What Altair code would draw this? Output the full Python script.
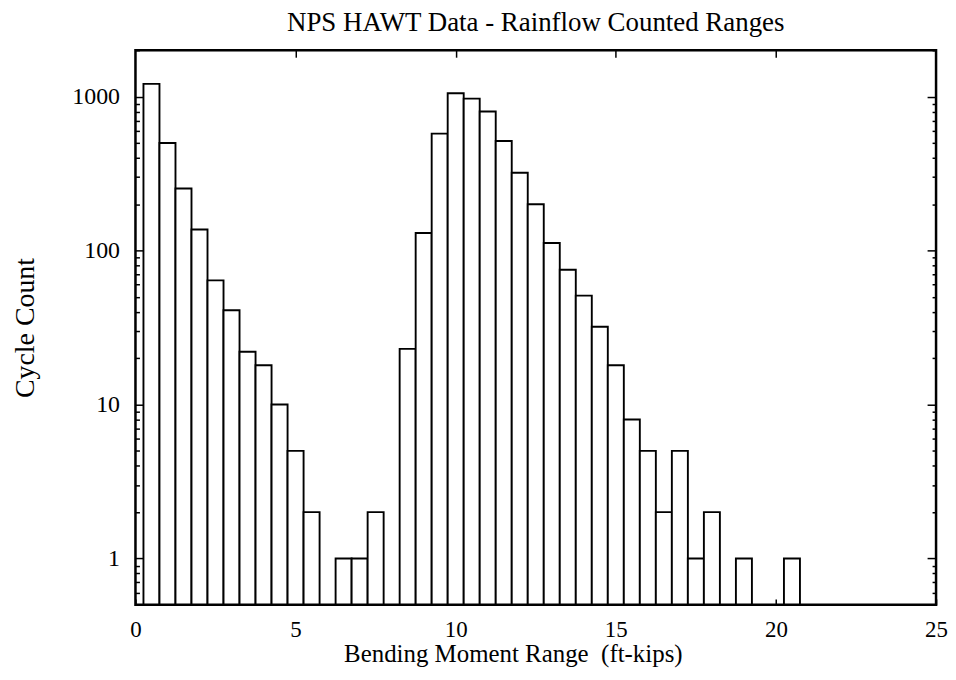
import altair as alt
import pandas as pd

# Bin centres (ft-kips) and rainflow cycle counts
centers = [0.5, 1.0, 1.5, 2.0, 2.5, 3.0, 3.5, 4.0, 4.5, 5.0, 5.5,
           6.5, 7.0, 7.5,
           8.5, 9.0, 9.5, 10.0, 10.5, 11.0, 11.5, 12.0, 12.5, 13.0, 13.5,
           14.0, 14.5, 15.0, 15.5, 16.0, 16.5, 17.0, 17.5, 18.0, 19.0, 20.5]
counts = [1210, 500, 253, 137, 64, 41, 22, 18, 10, 5, 2,
          1, 1, 2,
          23, 130, 575, 1050, 970, 800, 515, 320, 200, 112, 75,
          51, 32, 18, 8, 5, 2, 5, 1, 2, 1, 1]
bin_width = 0.5

x_ticks = [0, 5, 10, 15, 20, 25]
x_inner_ticks = [5, 10, 15, 20]
y_major = [1, 10, 100, 1000]
y_minor = [m * d for d in [1, 10, 100, 1000] for m in range(2, 10)]
y_minor = [v for v in y_minor if v <= 2000] + [0.6, 0.7, 0.8, 0.9]

df = pd.DataFrame({"center": centers, "count": counts})
df["start"] = df["center"] - bin_width / 2
df["end"] = df["center"] + bin_width / 2

W, H = 804, 557
FONT = "Liberation Serif"
xscale = alt.Scale(domain=[0, 25], nice=False, zero=False)
yscale = alt.Scale(type="log", domain=[0.5, 2000], nice=False)

common = dict(grid=False, domain=False, tickColor="black", tickWidth=1.5,
              labelFont=FONT, titleFont=FONT, labelColor="black", titleColor="black")

bars = alt.Chart(df).mark_bar(fill="white", stroke="black", strokeWidth=1.9).encode(
    x=alt.X("start:Q", scale=xscale,
            axis=alt.Axis(values=x_ticks, orient="bottom", offset=-6, tickSize=6,
                          labelFontSize=23, labelPadding=14, labelFlush=False,
                          title="Bending Moment Range \u00a0(ft-kips)", titleFontSize=25,
                          titleFontWeight="normal", titlePadding=0,
                          titleX=379, titleAlign="center", format="d",
                          **common)),
    x2="end:Q",
    y=alt.Y("count:Q", scale=yscale,
            axis=alt.Axis(values=y_major, orient="left", offset=-9, tickSize=9,
                          labelFontSize=24, labelPadding=16, format="d",
                          title="Cycle Count", titleFontSize=28, titleFontWeight="normal",
                          titlePadding=32, **common)),
    y2=alt.datum(0.5),
)

ghost = alt.Chart(df).mark_point(opacity=0)

left_minor = ghost.encode(
    x=alt.X("start:Q", scale=xscale, axis=None),
    y=alt.Y("count:Q", scale=yscale,
            axis=alt.Axis(values=y_minor, orient="left", offset=-4, tickSize=4,
                          labels=False, title=None, **common)),
)
right_major = ghost.encode(
    x=alt.X("start:Q", scale=xscale, axis=None),
    y=alt.Y("count:Q", scale=yscale,
            axis=alt.Axis(values=y_major, orient="right", offset=-9, tickSize=9,
                          labels=False, title=None, **common)),
)
right_minor = ghost.encode(
    x=alt.X("start:Q", scale=xscale, axis=None),
    y=alt.Y("count:Q", scale=yscale,
            axis=alt.Axis(values=y_minor, orient="right", offset=-4, tickSize=4,
                          labels=False, title=None, **common)),
)
top_ticks = ghost.encode(
    x=alt.X("start:Q", scale=xscale,
            axis=alt.Axis(values=x_inner_ticks, orient="top", offset=-7, tickSize=7,
                          labels=False, title=None, **common)),
    y=alt.Y("count:Q", scale=yscale, axis=None),
)

frame = alt.Chart(pd.DataFrame({"k": [0]})).mark_rect(
    filled=False, stroke="black", strokeWidth=2.5
).encode(x=alt.value(0), x2=alt.value(W), y=alt.value(0), y2=alt.value(H))

chart = alt.layer(bars, left_minor, right_major, right_minor, top_ticks, frame).resolve_axis(
    x="independent", y="independent"
).properties(
    width=W, height=H,
    padding={"left": 128, "top": 41, "right": 12, "bottom": 64},
    autosize=alt.AutoSizeParams(type="none"),
    title=alt.Title("NPS HAWT Data - Rainflow Counted Ranges", font=FONT, fontSize=27,
                    fontWeight="normal", color="black", anchor="middle", offset=12),
).configure_view(strokeWidth=0).configure(background="white")

chart.save("out.html", embed_options={"renderer": "svg", "actions": False})
